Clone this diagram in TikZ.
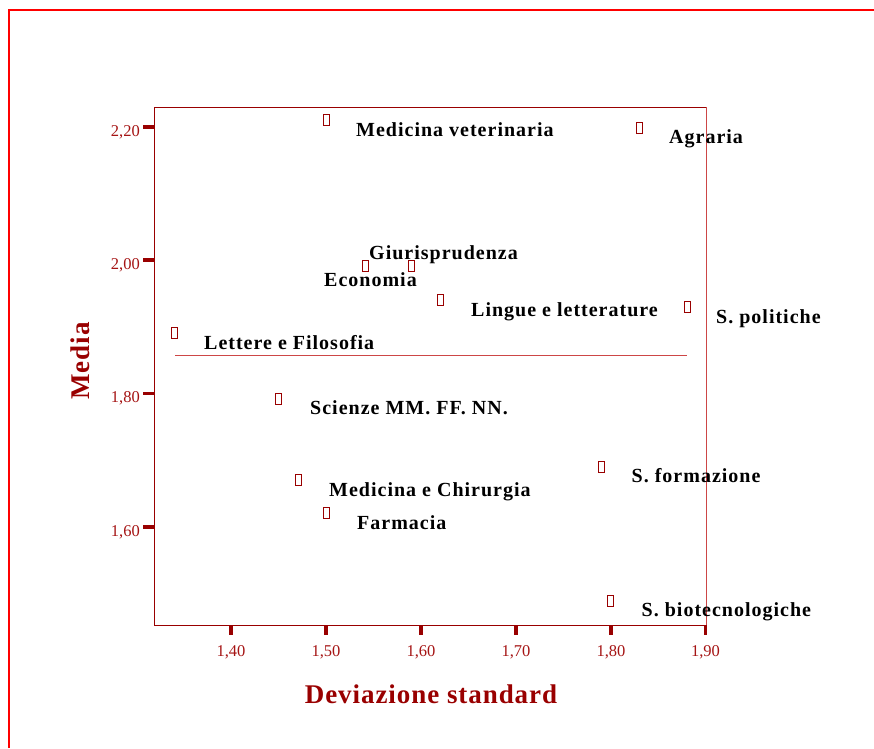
\documentclass[tikz,border=0pt]{standalone}
\usepackage{fontspec}
\setmainfont{Liberation Serif}
\newfontfamily\lblfont[LetterSpace=5]{Liberation Serif}
\newfontfamily\ttlfont[LetterSpace=3.5]{Liberation Serif}
\definecolor{axred}{RGB}{153,0,0}
\definecolor{ticklbl}{RGB}{165,20,20}
\definecolor{framered}{RGB}{255,0,0}
\definecolor{lightred}{RGB}{205,70,70}
\tikzset{
  marker/.style={draw=axred, line width=0.9pt, minimum width=6pt, minimum height=11pt, inner sep=0pt, rectangle},
  lbl/.style={anchor=base west, inner sep=0pt, font=\lblfont\fontsize{20}{22}\selectfont\bfseries},
  tlbl/.style={inner sep=0pt, text=ticklbl, font=\fontsize{16.5}{18}\selectfont},
  tickmark/.style={draw=axred, line width=3.6pt},
  ttl/.style={inner sep=0pt, text=axred, font=\ttlfont\fontsize{27}{30}\selectfont\bfseries}
}
\begin{document}
\begin{tikzpicture}[x=1pt,y=-1pt]
\useasboundingbox (0,0) rectangle (874,748);
% outer frame
\draw[framered, line width=2pt] (9,748) -- (9,10) -- (874,10);
% plot box
\draw[axred, line width=1pt] (706,107) -- (154.5,107) -- (154.5,625) -- (706,625);
\draw[lightred, line width=1pt] (706,107) -- (706,625);
% mean line
\draw[lightred, line width=0.8pt] (175,355) -- (687,355);
% y ticks
\foreach \yy/\t in {126.7/{2,20},260/{2,00},393.3/{1,80},526.7/{1,60}}{
  \draw[tickmark] (143,\yy) -- (154.5,\yy);
  \node[tlbl, anchor=base east] at (140,\yy+9.5) {\t};
}
% x ticks
\foreach \xx/\t in {231/{1,40},326/{1,50},421/{1,60},516/{1,70},611/{1,80},705.5/{1,90}}{
  \draw[tickmark] (\xx,625) -- (\xx,635);
  \node[tlbl, anchor=base] at (\xx,656) {\t};
}
% axis titles
\node[ttl, anchor=base] (xt) at (431,703) {Deviazione standard};
\node[ttl, rotate=90] (yt) at (80,361) {Media};
% markers
\node[marker] (m1) at (326.5,120) {};
\node[marker] (m2) at (639,128) {};
\node[marker] (m3) at (365,266) {};
\node[marker] (m4) at (411,266) {};
\node[marker] (m5) at (440,300) {};
\node[marker] (m6) at (687,306.5) {};
\node[marker] (m7) at (174.5,332.5) {};
\node[marker] (m8) at (278.5,398.5) {};
\node[marker] (m9) at (298,480) {};
\node[marker] (m10) at (326.5,512.5) {};
\node[marker] (m11) at (601,466.5) {};
\node[marker] (m12) at (610.5,600.5) {};
% labels
\node[lbl] (l1) at (356,136.5) {Medicina veterinaria};
\node[lbl] (l2) at (669,143.5) {Agraria};
\node[lbl] (l3) at (369,259.5) {Giurisprudenza};
\node[lbl] (l4) at (324,286.5) {Economia};
\node[lbl] (l5) at (471,316.5) {Lingue e letterature};
\node[lbl] (l6) at (716,323.5) {S. politiche};
\node[lbl] (l7) at (204,349) {Lettere e Filosofia};
\node[lbl] (l8) at (310,414.5) {Scienze MM. FF. NN.};
\node[lbl] (l9) at (329,496.5) {Medicina e Chirurgia};
\node[lbl] (l10) at (357,529) {Farmacia};
\node[lbl] (l11) at (631.5,482) {S. formazione};
\node[lbl] (l12) at (641.5,616.5) {S. biotecnologiche};
\end{tikzpicture}
\end{document}
